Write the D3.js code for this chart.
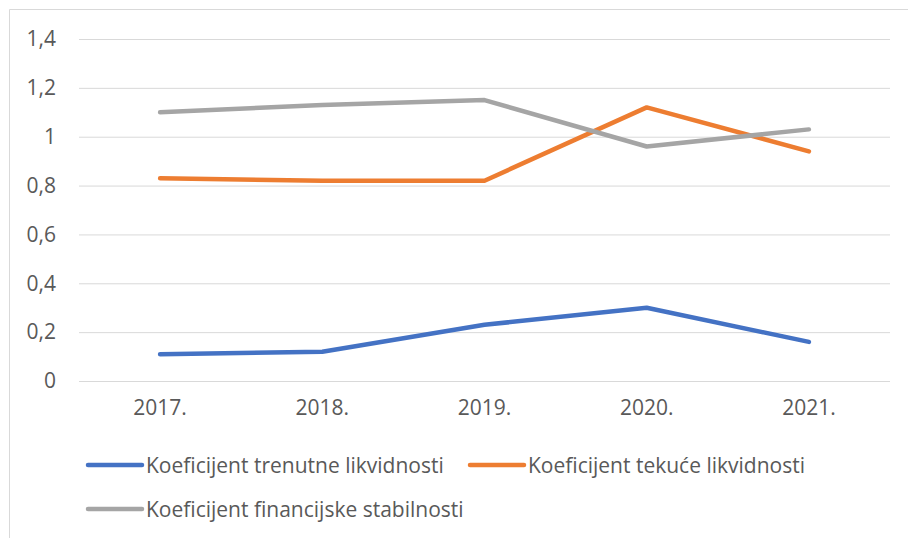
<!DOCTYPE html>
<html><head><meta charset="utf-8">
<script src="https://cdn.jsdelivr.net/npm/d3@7"></script>
<style>body{margin:0;background:#fff}svg{display:block}text{font-family:"Open Sans",sans-serif;fill:#595959}</style>
</head><body><svg id="c" width="908" height="538"></svg>
<script>
const categories = ["2017.","2018.","2019.","2020.","2021."];
const trenutne = [0.11,0.12,0.23,0.30,0.16];
const tekuce = [0.83,0.82,0.82,1.12,0.94];
const stabilnost = [1.10,1.13,1.15,0.96,1.03];
const seriesNames = ["Koeficijent trenutne likvidnosti","Koeficijent tekuće likvidnosti","Koeficijent financijske stabilnosti"];
const colors = ["#4472C4","#ED7D31","#A5A5A5"];
const yTicks = [0,0.2,0.4,0.6,0.8,1,1.2,1.4];

const svg = d3.select("#c");
svg.append("path").attr("d","M9.5,538V9.5H908").attr("fill","none").attr("stroke","#d9d9d9");

const x = d3.scaleBand().domain(categories).range([79,890]);
const y = d3.scaleLinear().domain([0,1.4]).range([381,39]);
const fmt = d => String(d).replace(".",",");

const FONT = "'Open Sans', sans-serif";
const yAxis = svg.append("g").attr("transform","translate(79,0)")
  .call(d3.axisLeft(y).tickValues(yTicks).tickSize(-811).tickFormat(fmt).tickPadding(23));
yAxis.select(".domain").remove();
yAxis.selectAll("line").attr("stroke","#d9d9d9");
yAxis.selectAll("text").attr("font-size",21).style("font-family",FONT).attr("fill","#595959");

const xAxis = svg.append("g").attr("transform","translate(0,381)")
  .call(d3.axisBottom(x).tickSize(0).tickPadding(19));
xAxis.select(".domain").remove();
xAxis.selectAll("text").attr("font-size",21).style("font-family",FONT).attr("fill","#595959");

const line = d3.line().x((d,i)=>x(categories[i])+x.bandwidth()/2).y(d=>y(d));
[trenutne,tekuce,stabilnost].forEach((s,i)=>{
  svg.append("path").attr("d",line(s)).attr("fill","none").attr("stroke",colors[i])
    .attr("stroke-width",4.5).attr("stroke-linecap","round").attr("stroke-linejoin","round");
});

const legPos = [[88,465],[470,465],[88,509]];
seriesNames.forEach((n,i)=>{
  const [lx,ly] = legPos[i];
  svg.append("line").attr("x1",lx).attr("x2",lx+54).attr("y1",ly).attr("y2",ly)
    .attr("stroke",colors[i]).attr("stroke-width",4.5).attr("stroke-linecap","round");
  svg.append("text").attr("x",lx+58).attr("y",ly+7.5).attr("font-size",21).style("font-family",FONT).text(n);
});
</script></body></html>
